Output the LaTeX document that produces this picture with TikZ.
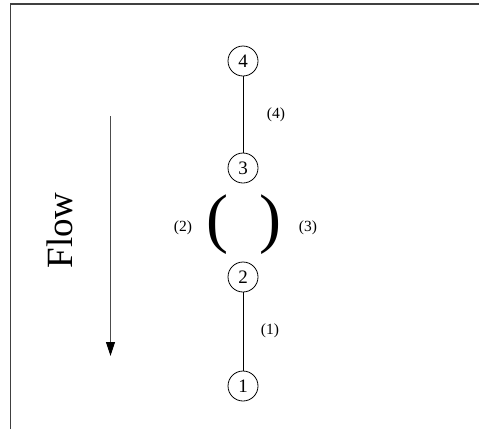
\documentclass[tikz,border=0pt]{standalone}
\usepackage{fontspec}
\setmainfont{Liberation Serif}
\usetikzlibrary{arrows.meta}
\begin{document}
\begin{tikzpicture}[x=1pt,y=-1pt,
  state/.style={draw, circle, line width=0.8pt, minimum size=30pt, inner sep=0pt, font=\fontsize{19}{19}\selectfont},
  edge/.style={line width=0.8pt},
  lbl/.style={font=\fontsize{15.5}{15.5}\selectfont, inner sep=0pt},
  paren/.style={font=\fontsize{66}{66}\selectfont, inner sep=0pt},
  frameline/.style={draw=black!75, line width=1.1pt}]
\useasboundingbox (0,0) rectangle (479,429);
\coordinate (ftl) at (10.5,4);
\coordinate (ftr) at (479,4);
\coordinate (fbl) at (10.5,429);
\draw[frameline] (fbl) -- (ftl) -- (ftr);
\node[state] (n4) at (243,61) {4};
\node[state] (n3) at (243,168) {3};
\node[state] (n2) at (243,277) {2};
\node[state] (n1) at (243,386) {1};
\draw[edge] (n4) -- (n3);
\draw[edge] (n2) -- (n1);
\node[lbl] (l4) at (276,115) {(4)};
\node[lbl] (l1) at (270,331) {(1)};
\node[lbl] (l2) at (183,228) {(2)};
\node[lbl] (l3) at (308,228) {(3)};
\node[paren] (pl) at (217,225) {(};
\node[paren] (pr) at (270,225) {)};
\coordinate (as) at (110.5,116);
\coordinate (ae) at (110.5,356);
\draw[draw=black!70, line width=1pt, -{Triangle[width=9pt,length=14pt,color=black,fill=black]}] (as) -- (ae);
\node[rotate=90, font=\fontsize{37}{37}\selectfont, inner sep=0pt] (flow) at (60,230.5) {Flow};
\end{tikzpicture}
\end{document}
